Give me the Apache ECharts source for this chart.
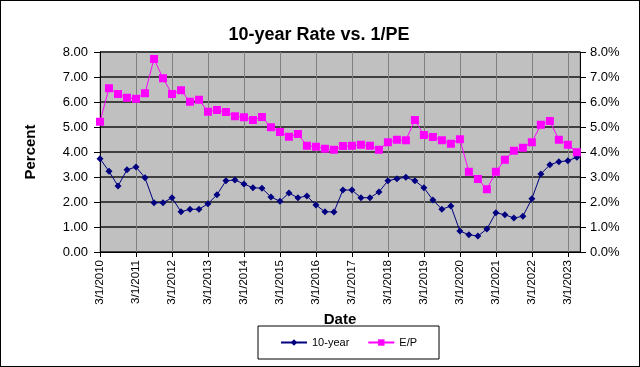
<!DOCTYPE html>
<html>
<head>
<meta charset="utf-8">
<script src="https://cdn.jsdelivr.net/npm/echarts@6/dist/echarts.min.js"></script>
<style>
html,body{margin:0;padding:0;background:#fff;}
#wrap{position:absolute;left:0;top:0;width:638px;height:365px;border:1px solid #000;}
#chart{width:640px;height:367px;position:absolute;left:-1px;top:-1px;}
</style>
</head>
<body>
<div id="wrap"></div>
<div id="chart"></div>
<script>
// Quarterly dates, 3/1/2010 .. 6/1/2023
const dates = [];
for (let y = 2010; y <= 2023; y++) {
  for (const m of [3, 6, 9, 12]) {
    if (y === 2023 && m > 6) break;
    dates.push(m + '/1/' + y);
  }
}
const tenYear = [3.73,3.23,2.64,3.29,3.40,2.97,1.97,1.97,2.17,1.61,1.71,1.71,1.93,2.29,
  2.85,2.88,2.72,2.57,2.55,2.20,2.03,2.36,2.17,2.24,1.88,1.61,1.60,2.48,2.48,2.17,2.17,2.40,
  2.85,2.93,2.99,2.85,2.57,2.08,1.71,1.84,0.84,0.69,0.64,0.92,1.57,1.49,1.36,1.43,2.13,3.12,
  3.49,3.61,3.65,3.79];
const earningsYield = [5.21,6.55,6.32,6.17,6.13,6.35,7.72,6.95,6.32,6.47,6.01,6.09,5.61,5.68,
  5.60,5.43,5.39,5.28,5.40,4.99,4.80,4.61,4.72,4.25,4.21,4.13,4.09,4.24,4.25,4.29,4.25,4.09,
  4.39,4.49,4.47,5.28,4.68,4.60,4.47,4.33,4.51,3.21,2.92,2.51,3.21,3.69,4.05,4.17,4.39,5.09,
  5.24,4.49,4.29,3.99];
const leftTicks = [0,1,2,3,4,5,6,7,8];

const chart = echarts.init(document.getElementById('chart'));
const font = 'Liberation Sans, Arial, sans-serif';
chart.setOption({
  animation: false,
  title: {
    text: '10-year Rate vs. 1/PE',
    left: 315, top: 22, textAlign: 'center',
    textStyle: {fontFamily: font, fontSize: 18, fontWeight: 'bold', color: '#000'}
  },
  grid: {left: 101, right: 59, top: 53, bottom: 114, show: true,
    backgroundColor: '#C0C0C0', borderColor: '#909090', borderWidth: 1},
  legend: {
    left: 259, top: 327, width: 174, height: 33,
    padding: [11, 22], itemGap: 18,
    borderColor: '#000', borderWidth: 1, backgroundColor: '#fff',
    itemWidth: 26, itemHeight: 8,
    textStyle: {fontFamily: font, fontSize: 11, color: '#000'},
    data: ['10-year', 'E/P']
  },
  xAxis: {
    type: 'value', min: 0, max: 53.35, interval: 4,
    name: 'Date', nameLocation: 'middle', nameGap: 57,
    nameTextStyle: {fontFamily: font, fontSize: 15, fontWeight: 'bold', color: '#000'},
    axisLine: {show: true, lineStyle: {color: '#000', width: 1}},
    axisTick: {show: true, length: 5, lineStyle: {color: '#000'}},
    axisLabel: {
      rotate: 90, fontFamily: font, fontSize: 11.5, color: '#000', margin: 8,
      showMaxLabel: false,
      formatter: v => (v % 4 === 0 && dates[v]) ? dates[v] : ''
    },
    splitLine: {show: true, lineStyle: {color: '#808080', width: 1}}
  },
  yAxis: [{
    type: 'value', min: 0, max: 8, interval: 1,
    name: 'Percent', nameLocation: 'middle', nameGap: 62, nameRotate: 90,
    nameTextStyle: {fontFamily: font, fontSize: 15, fontWeight: 'bold', color: '#000'},
    axisLine: {show: true, lineStyle: {color: '#000', width: 1}},
    axisTick: {show: true, length: 6, lineStyle: {color: '#000'}},
    axisLabel: {fontFamily: font, fontSize: 13, color: '#000', margin: 12,
      formatter: v => leftTicks.includes(v) ? v.toFixed(2) : ''},
    splitLine: {show: true, lineStyle: {color: '#404040', width: 2}}
  }, {
    type: 'value', min: 0, max: 8, interval: 1, position: 'right',
    axisLine: {show: true, lineStyle: {color: '#000', width: 1}},
    axisTick: {show: true, length: 6, lineStyle: {color: '#000'}},
    axisLabel: {fontFamily: font, fontSize: 13, color: '#000', margin: 10,
      formatter: v => v.toFixed(1) + '%'},
    splitLine: {show: false}
  }],
  series: [{
    name: '10-year', type: 'line', yAxisIndex: 0,
    data: tenYear.map((v, i) => [i, v]),
    symbol: 'diamond', symbolSize: 7,
    lineStyle: {color: '#000080', width: 1},
    itemStyle: {color: '#000080'}
  }, {
    name: 'E/P', type: 'line', yAxisIndex: 1,
    data: earningsYield.map((v, i) => [i, v]),
    symbol: 'rect', symbolSize: 8,
    lineStyle: {color: '#FF00FF', width: 1},
    itemStyle: {color: '#FF00FF'}
  }]
});
</script>
</body>
</html>
